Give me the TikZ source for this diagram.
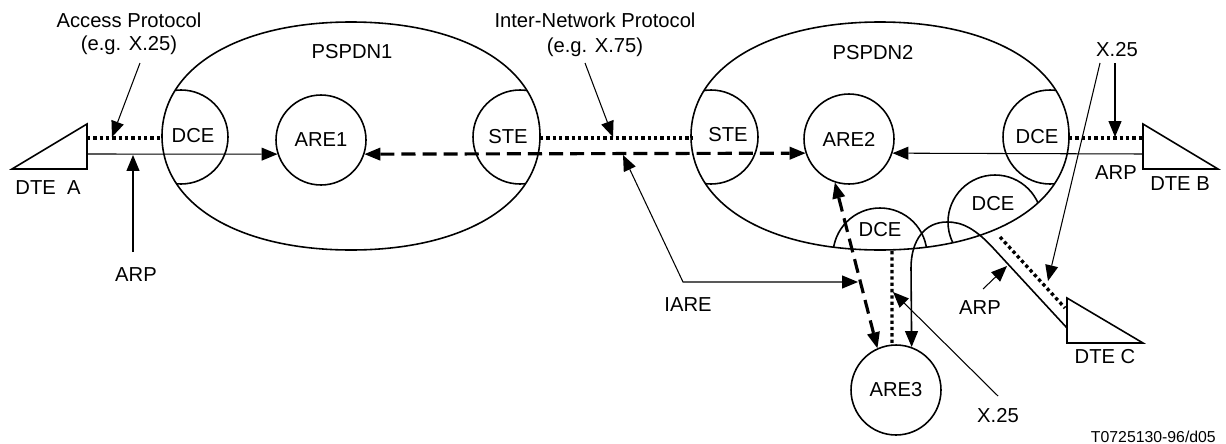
\documentclass[tikz,border=0pt]{standalone}
\usepackage{fontspec}
\setmainfont{Liberation Sans}
\usetikzlibrary{arrows.meta, positioning}

% outline of one network, centred on (0,0)
\newcommand{\netshape}{(189,0) .. controls (189,-68) and (113,-114) .. (0,-114)
  .. controls (-113,-114) and (-189,-68) .. (-189,0)
  .. controls (-189,68) and (-113,114) .. (0,114)
  .. controls (113,114) and (189,68) .. (189,0) -- cycle}

\begin{document}
\begin{tikzpicture}[x=0.02cm, y=-0.02cm,
  every node/.style={font=\fontsize{11.5}{13}\selectfont},
  >={Triangle[length=9pt, width=7.5pt, line width=0pt]},
  net/.style={line width=0.9pt},
  are/.style={circle, draw=black, line width=0.9pt, minimum size=1.8cm, inner sep=0pt},
  link/.style={line width=0.6pt},
  dotline/.style={line width=1.9pt, dash pattern=on 1.9pt off 1.7pt},
  dashline/.style={line width=1.8pt, dash pattern=on 8pt off 4pt}]
  \useasboundingbox (0,0) rectangle (1226,443);

  % networks
  \begin{scope}[shift={(351,136)}]
    \draw[net] \netshape;
    \clip \netshape;
    \draw[net] (-170,1) circle[radius=47];
    \draw[net] (169,1) circle[radius=47];
  \end{scope}
  \begin{scope}[shift={(880,136)}]
    \draw[net] \netshape;
    \clip \netshape;
    \draw[net] (-169,1) circle[radius=47];
    \draw[net] (170,1) circle[radius=47];
    \draw[net] (0,119) circle[radius=47];
    \draw[net] (115,86) circle[radius=47];
  \end{scope}

  \node (pspdn1) at (352,52) {PSPDN1};
  \node (pspdn2) at (873,53) {PSPDN2};
  \node (dceA) at (193,136) {DCE};
  \node (steA) at (508,137) {STE};
  \node (steB) at (728,135) {STE};
  \node (dceB) at (1037,137) {DCE};
  \node (dceC) at (880,230) {DCE};
  \node (dceD) at (993,204) {DCE};

  \node[are] (are1) at (321,140) {ARE1};
  \node[are] (are2) at (849,139) {ARE2};
  \node[are] (are3) at (896,390) {ARE3};

  % terminals
  \draw[net] (12,169) -- (87,124) -- (87,169) -- cycle;
  \draw[net] (1143,124) -- (1218,169) -- (1143,169) -- cycle;
  \draw[net] (1067,298) -- (1143,343) -- (1067,343) -- cycle;
  \node (dteA) at (48,188) {DTE\ \ A};
  \node (dteB) at (1180,184) {DTE B};
  \node (dteC) at (1105,357) {DTE C};

  \coordinate (tA) at (87,154);
  \coordinate (tAdot) at (87,138);
  \coordinate (nA) at (162,138);
  \coordinate (n1) at (540,138);
  \coordinate (n2) at (692,138);
  \coordinate (nB) at (1069,138);
  \coordinate (tB) at (1143,154);
  \coordinate (tBdot) at (1143,138);
  \coordinate (nC) at (892,251);
  \coordinate (nD) at (1000,237);
  \coordinate (tC) at (1067,328);
  \coordinate (tCdot) at (1065,308);

  \draw[link, ->] (tA) -- (are1.198);
  \draw[dotline] (tAdot) -- (nA);
  \draw[dashline, <->] (are1.-18) -- (are2.198);
  \draw[dotline] (n1) -- (n2);
  \draw[link, ->] (tB) -- (are2.-18);
  \draw[dotline] (nB) -- (tBdot);
  \draw[dashline, <->] (are2.252) -- (are3.114);
  \draw[dotline] (nC) -- (are3.95);
  \draw[net, ->] (tC) -- (995,250) .. controls (975,228) and (962,222) .. (947,222)
    .. controls (925,222) and (911,240) .. (911,268) -- (are3.70);
  \draw[dotline] (nD) -- (tCdot);

  % labels and pointers
  \node (acc) at (129,20) {Access Protocol};
  \node (accx) at (129,45) {(e.g. X.25)};
  \node (inter) at (595,20) {Inter-Network Protocol};
  \node (interx) at (595,47) {(e.g. X.75)};
  \node (arpA) at (136,275) {ARP};
  \node (arpB) at (1116,173) {ARP};
  \node (arpC) at (980,308) {ARP};
  \node (iare) at (688,305) {IARE};
  \node (xB) at (1117,50) {X.25};
  \node (xC) at (998,416) {X.25};
  \node[anchor=base east, font=\fontsize{9}{10}\selectfont] (fig) at (1222,442) {T0725130-96/d05};

  \coordinate (accFrom) at (140,63);
  \coordinate (accTo) at (112,137);
  \coordinate (arpAFrom) at (133,252);
  \coordinate (arpATo) at (133,155);
  \coordinate (interFrom) at (585,63);
  \coordinate (interTo) at (613,137);
  \coordinate (iareA) at (623,155);
  \coordinate (iareBend) at (683,282);
  \coordinate (iareB) at (858,282);
  \coordinate (xBFrom) at (1115,63);
  \coordinate (xBTo) at (1115,137);
  \coordinate (xDFrom) at (1100,63);
  \coordinate (xDTo) at (1048,281);
  \coordinate (xCFrom) at (998,396);
  \coordinate (xCTo) at (893,292);
  \coordinate (arpCFrom) at (983,289);
  \coordinate (arpCTo) at (1007,266);

  \draw[link, ->] (accFrom) -- (accTo);
  \draw[link, ->] (arpAFrom) -- (arpATo);
  \draw[link, ->] (interFrom) -- (interTo);
  \draw[link, <->] (iareA) -- (iareBend) -- (iareB);
  \draw[link, ->] (xBFrom) -- (xBTo);
  \draw[link, ->] (xDFrom) -- (xDTo);
  \draw[link, ->] (xCFrom) -- (xCTo);
  \draw[link, ->] (arpCFrom) -- (arpCTo);
\end{tikzpicture}
\end{document}
